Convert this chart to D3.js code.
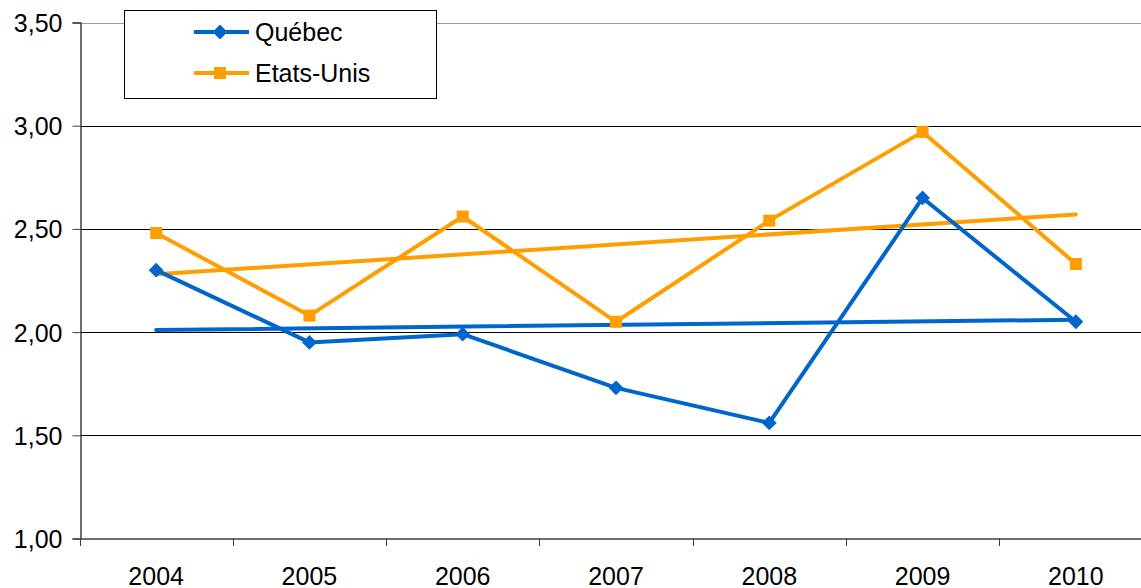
<!DOCTYPE html>
<html><head><meta charset="utf-8">
<script src="https://cdn.jsdelivr.net/npm/d3@7/dist/d3.min.js"></script>
<style>body{margin:0;background:#fff}svg{display:block;font-family:"Liberation Sans",Arial,sans-serif}</style>
</head><body><svg id="c" width="1141" height="588"></svg>
<script>
const years = ["2004","2005","2006","2007","2008","2009","2010"];
const quebec = [2.30,1.95,1.99,1.73,1.56,2.65,2.05];
const etatsUnis = [2.48,2.08,2.56,2.05,2.54,2.97,2.33];
const trendQuebec = [2.01,2.06];
const trendEtatsUnis = [2.28,2.57];
const yTicks = [1.0,1.5,2.0,2.5,3.0,3.5];
const seriesNames = ["Québec","Etats-Unis"];

const svg = d3.select("#c");
const blue = "#0066CC", orange = "#FF9E00";
const FS = 25;
const x = d3.scaleBand().domain(years).range([79.5,1152.5]);
const y = d3.scaleLinear().domain([1,3.5]).range([538.5,22.5]);
const cx = d => x(d)+x.bandwidth()/2;
const fmt = v => d3.format(".2f")(v).replace(".",",");

// gridlines
svg.append("g").selectAll("line").data(yTicks.slice(1)).join("line")
  .attr("x1",80).attr("x2",1141).attr("y1",d=>Math.round(y(d))+0.5).attr("y2",d=>Math.round(y(d))+0.5)
  .attr("stroke",d=>d===3.5?"#9a9a9a":"#000").attr("stroke-width",1);

// y axis
const ya = svg.append("g").attr("transform","translate(80.5,0)")
  .call(d3.axisLeft(y).tickValues(yTicks).tickFormat(fmt).tickSize(8).tickPadding(10));
ya.select(".domain").attr("stroke","#404040").attr("stroke-width",1.5);
ya.selectAll(".tick line").attr("stroke","#404040");
ya.selectAll("text").attr("font-size",FS).attr("fill","#000").attr("dy","0.36em").attr("font-family","Liberation Sans, Arial, sans-serif");

// x axis
const xa = svg.append("g").attr("transform","translate(0,538.5)")
  .call(d3.axisBottom(x).tickSize(0).tickPadding(0));
xa.select(".domain").attr("stroke","#404040").attr("stroke-width",1.5);
xa.selectAll(".tick text").attr("font-size",FS).attr("fill","#000").attr("y",46).attr("dy",0).attr("font-family","Liberation Sans, Arial, sans-serif");
svg.append("g").selectAll("line").data(years).join("line")
  .attr("x1",d=>Math.round(x(d))+0.5).attr("x2",d=>Math.round(x(d))+0.5)
  .attr("y1",538).attr("y2",546).attr("stroke","#404040");

const line = d3.line().x((d,i)=>cx(years[i])).y(d=>y(d));
// trend lines
svg.append("path").attr("d",d3.line()([[cx(years[0]),y(trendQuebec[0])],[cx(years[6]),y(trendQuebec[1])]]))
  .attr("stroke",blue).attr("stroke-width",4).attr("fill","none").attr("stroke-linecap","round");
svg.append("path").attr("d",d3.line()([[cx(years[0]),y(trendEtatsUnis[0])],[cx(years[6]),y(trendEtatsUnis[1])]]))
  .attr("stroke",orange).attr("stroke-width",4).attr("fill","none").attr("stroke-linecap","round");

// series
svg.append("path").attr("d",line(etatsUnis)).attr("stroke",orange).attr("stroke-width",4).attr("fill","none").attr("stroke-linejoin","round");
svg.append("g").selectAll("rect").data(etatsUnis).join("rect")
  .attr("x",(d,i)=>cx(years[i])-6).attr("y",d=>y(d)-6).attr("width",12).attr("height",12).attr("fill",orange);
svg.append("path").attr("d",line(quebec)).attr("stroke",blue).attr("stroke-width",4).attr("fill","none").attr("stroke-linejoin","round");
const diamond = d3.symbol().type(d3.symbolDiamond2).size(140);
svg.append("g").selectAll("path").data(quebec).join("path")
  .attr("d",diamond).attr("transform",(d,i)=>`translate(${cx(years[i])},${y(d)})`).attr("fill",blue);

// legend
const lg = svg.append("g");
lg.append("rect").attr("x",124.5).attr("y",10.5).attr("width",312).attr("height",88).attr("fill","#fff").attr("stroke","#000").attr("stroke-width",1);
const items = [{n:seriesNames[0],c:blue,t:"d"},{n:seriesNames[1],c:orange,t:"s"}];
items.forEach((it,i)=>{
  const yy = 32 + i*41;
  lg.append("line").attr("x1",194).attr("x2",249).attr("y1",yy).attr("y2",yy).attr("stroke",it.c).attr("stroke-width",4);
  if(it.t==="d") lg.append("path").attr("d",diamond).attr("transform",`translate(220,${yy})`).attr("fill",it.c);
  else lg.append("rect").attr("x",214).attr("y",yy-6).attr("width",12).attr("height",12).attr("fill",it.c);
  lg.append("text").attr("x",255).attr("y",yy).attr("dy","0.36em").attr("font-size",FS).text(it.n);
});
</script></body></html>
